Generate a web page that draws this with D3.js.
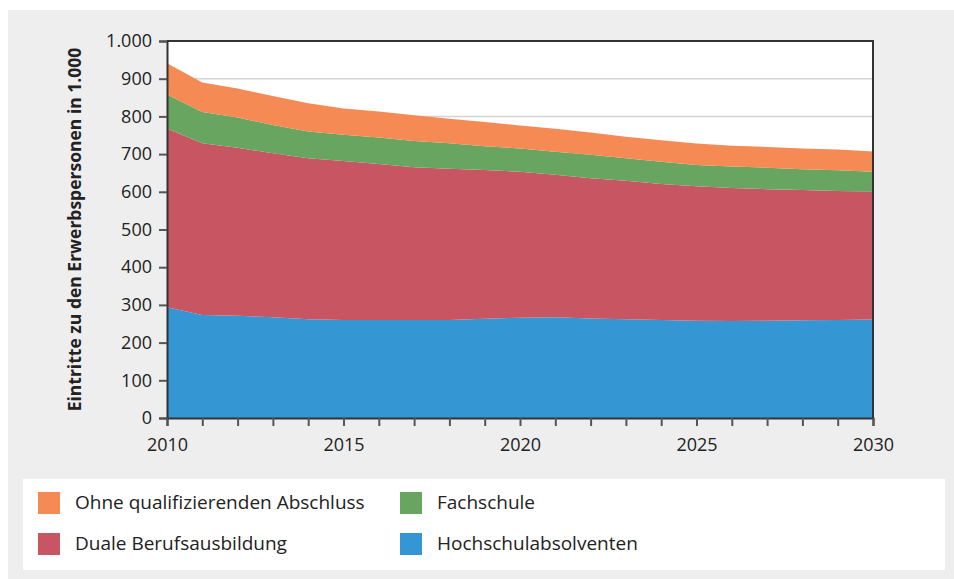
<!DOCTYPE html>
<html>
<head>
<meta charset="utf-8">
<script src="https://cdn.jsdelivr.net/npm/d3@7"></script>
<style>
  body { margin: 0; background: #fff; }
  text { font-family: "Open Sans", Lato, sans-serif; fill: #222; }
</style>
</head>
<body>
<div id="chart"></div>
<script>
// Years on the x axis
const years = d3.range(2010, 2031);

// Series values (in 1.000)
const hochschule = [294, 273, 271, 267, 262, 260, 260, 260, 260, 263, 266, 267, 264, 262, 260, 258, 257, 258, 259, 260, 261];
const duale = [474, 456, 446, 435, 427, 422, 414, 405, 401, 395, 387, 378, 372, 367, 361, 357, 353, 349, 346, 342, 339];
const fachschule = [90, 83, 80, 75, 71, 69, 70, 70, 68, 63, 62, 61, 62, 60, 59, 56, 57, 57, 55, 55, 53];
const ohne = [83, 78, 77, 77, 75, 70, 69, 68, 65, 64, 61, 61, 59, 57, 57, 57, 55, 55, 55, 55, 54];

// Series names / colours (stack order bottom to top)
const keys = ['Hochschulabsolventen', 'Duale Berufsausbildung', 'Fachschule', 'Ohne qualifizierenden Abschluss'];
const colors = ['#3496d2', '#c85562', '#67a561', '#f58a54'];
const yTicks = [0, 100, 200, 300, 400, 500, 600, 700, 800, 900, 1000];
const xLabels = [2010, 2015, 2020, 2025, 2030];

// Build table for d3.stack
const table = years.map((y, i) => ({
  year: y,
  'Hochschulabsolventen': hochschule[i],
  'Duale Berufsausbildung': duale[i],
  'Fachschule': fachschule[i],
  'Ohne qualifizierenden Abschluss': ohne[i]
}));

const W = 954, H = 579;
const margin = { top: 41, right: 81, bottom: 161, left: 167 };
const width = W - margin.left - margin.right;
const height = H - margin.top - margin.bottom;

const svg = d3.select('#chart').append('svg')
  .attr('width', W)
  .attr('height', H);

// grey panel
svg.append('rect')
  .attr('x', 8).attr('y', 10)
  .attr('width', W - 8).attr('height', H - 10)
  .attr('fill', '#eeeeee');

const g = svg.append('g')
  .attr('transform', `translate(${margin.left},${margin.top})`);

const x = d3.scaleLinear().domain([2010, 2030]).range([0, width]);
const y = d3.scaleLinear().domain([0, 1000]).range([height, 0]);

// plot background
g.append('rect')
  .attr('width', width).attr('height', height)
  .attr('fill', '#fff');

// grid lines
g.selectAll('.grid')
  .data(yTicks.filter(d => d > 0 && d < 1000))
  .enter().append('line')
  .attr('x1', 0).attr('x2', width)
  .attr('y1', d => y(d)).attr('y2', d => y(d))
  .attr('stroke', '#d4d4d4')
  .attr('stroke-width', 1.5);

// stacked areas
const series = d3.stack().keys(keys)(table);
const area = d3.area()
  .x(d => x(d.data.year))
  .y0(d => y(d[0]))
  .y1(d => y(d[1]));

g.selectAll('.layer')
  .data(series)
  .enter().append('path')
  .attr('class', 'layer')
  .attr('d', area)
  .attr('fill', (d, i) => colors[i]);

// frame (top and right)
g.append('path')
  .attr('d', `M0,${y(1000)}H${width}V${height}`)
  .attr('fill', 'none')
  .attr('stroke', '#333')
  .attr('stroke-width', 2);

// y axis
const yAxis = g.append('g')
  .call(d3.axisLeft(y).tickValues(yTicks).tickSize(8).tickPadding(7)
    .tickFormat(d => d3.format(',')(d).replace(',', '.')));
yAxis.select('.domain').attr('stroke', '#333').attr('stroke-width', 2);
yAxis.selectAll('.tick line').attr('stroke', '#555').attr('stroke-width', 2);
yAxis.selectAll('text').style('font-size', '18px').attr('fill', '#222');

// x axis
const xAxis = g.append('g')
  .attr('transform', `translate(0,${height})`)
  .call(d3.axisBottom(x).tickValues(years).tickSize(8).tickPadding(12)
    .tickFormat(d => xLabels.includes(d) ? d : ''));
xAxis.select('.domain').attr('stroke', '#333').attr('stroke-width', 2);
xAxis.selectAll('.tick line').attr('stroke', '#555').attr('stroke-width', 2);
xAxis.selectAll('text').style('font-size', '18px').attr('fill', '#222');

// y axis title
svg.append('text')
  .attr('transform', `translate(81,${margin.top + height / 2 + 0}) rotate(-90)`)
  .attr('text-anchor', 'middle')
  .style('font-size', '17.5px')
  .style('font-weight', 'bold')
  .text('Eintritte zu den Erwerbspersonen in 1.000');

// legend
svg.append('rect')
  .attr('x', 23).attr('y', 479)
  .attr('width', 922).attr('height', 91)
  .attr('fill', '#fff');

const legendItems = [
  { name: keys[3], color: colors[3], col: 0, row: 0 },
  { name: keys[2], color: colors[2], col: 1, row: 0 },
  { name: keys[1], color: colors[1], col: 0, row: 1 },
  { name: keys[0], color: colors[0], col: 1, row: 1 }
];

const leg = svg.selectAll('.leg')
  .data(legendItems)
  .enter().append('g')
  .attr('transform', d => `translate(${38 + d.col * 362},${492 + d.row * 41})`);

leg.append('rect')
  .attr('width', 22).attr('height', 22)
  .attr('fill', d => d.color);

leg.append('text')
  .attr('x', 37).attr('y', 17)
  .style('font-size', '19px')
  .text(d => d.name);
</script>
</body>
</html>
